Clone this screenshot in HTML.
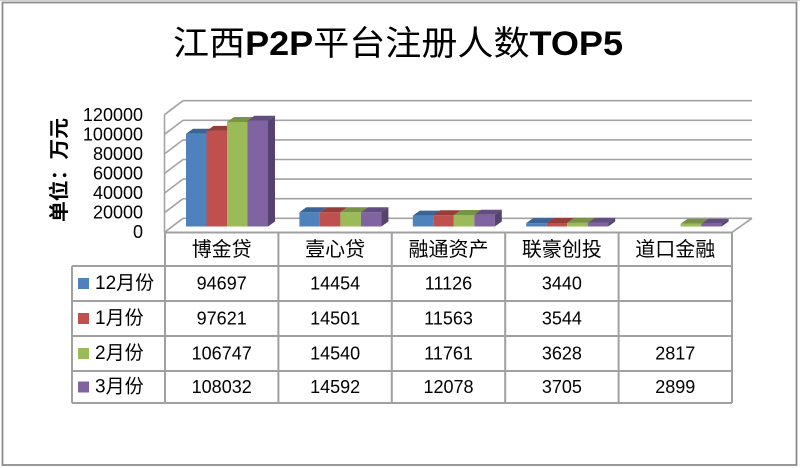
<!DOCTYPE html>
<html><head><meta charset="utf-8"><style>
html,body{margin:0;padding:0;background:#fff;width:800px;height:468px;overflow:hidden}
svg{display:block}
text{font-family:"Liberation Sans","Noto Sans CJK SC",sans-serif;fill:#000}
</style></head><body>
<svg width="800" height="468" viewBox="0 0 800 468" xmlns="http://www.w3.org/2000/svg">
<rect x="0" y="0" width="800" height="468" fill="#fff"/>
<line x1="0" y1="0.5" x2="800" y2="0.5" stroke="#d0d0d0" stroke-width="1"/>
<rect x="2.5" y="2.5" width="794" height="462.5" fill="none" stroke="#8c8c8c" stroke-width="1.8"/>

<!-- Title -->
<text x="398" y="55" font-size="34" text-anchor="middle" textLength="450" lengthAdjust="spacingAndGlyphs"><tspan font-family="'Noto Sans CJK SC',sans-serif">江西</tspan><tspan font-weight="bold">P2P</tspan><tspan font-family="'Noto Sans CJK SC',sans-serif">平台注册人数</tspan><tspan font-weight="bold">TOP5</tspan></text>

<!-- Y axis title -->
<text transform="translate(60,170) rotate(-90)" font-size="20" font-weight="bold" text-anchor="middle" dominant-baseline="central" textLength="104" lengthAdjust="spacingAndGlyphs" font-family="'Noto Sans CJK SC',sans-serif">单位：万元</text>

<!-- back wall gridlines & left wall -->
<g stroke="#a3a3a3" stroke-width="1.6" fill="none">
<line x1="183" y1="100.7" x2="752" y2="100.7"/>
<line x1="183" y1="120.3" x2="752" y2="120.3"/>
<line x1="183" y1="139.9" x2="752" y2="139.9"/>
<line x1="183" y1="159.5" x2="752" y2="159.5"/>
<line x1="183" y1="179.1" x2="752" y2="179.1"/>
<line x1="183" y1="198.7" x2="752" y2="198.7"/>
<line x1="183" y1="218.3" x2="752" y2="218.3"/>
<line x1="164.5" y1="114.7" x2="183" y2="100.7"/>
<line x1="164.5" y1="134.3" x2="183" y2="120.3"/>
<line x1="164.5" y1="153.9" x2="183" y2="139.9"/>
<line x1="164.5" y1="173.5" x2="183" y2="159.5"/>
<line x1="164.5" y1="193.1" x2="183" y2="179.1"/>
<line x1="164.5" y1="212.7" x2="183" y2="198.7"/>
<line x1="164.5" y1="232.3" x2="183" y2="218.3"/>
<line x1="164.5" y1="114.7" x2="164.5" y2="232.3"/>
<line x1="732" y1="232.3" x2="752" y2="218.3"/>
</g>

<!-- Y labels -->
<g font-size="18" text-anchor="end" dominant-baseline="central">
<text x="143" y="115">120000</text>
<text x="143" y="134.5">100000</text>
<text x="143" y="154">80000</text>
<text x="143" y="173.5">60000</text>
<text x="143" y="193">40000</text>
<text x="143" y="212.5">20000</text>
<text x="143" y="232">0</text>
</g>

<!-- Bars -->
<g id="bars" stroke="none">
<!-- 博金贷 x=186 -->
<polygon fill="#4F81BD" points="186,133.8 206.5,133.8 206.5,226.5 186,226.5"/>
<polygon fill="#3A6396" points="186,133.8 193,128.8 213.5,128.8 206.5,133.8"/>
<polygon fill="#C0504D" points="206.5,130.9 227,130.9 227,226.5 206.5,226.5"/>
<polygon fill="#963D3A" points="206.5,130.9 213.5,125.9 234,125.9 227,130.9"/>
<polygon fill="#9BBB59" points="227,122 247.5,122 247.5,226.5 227,226.5"/>
<polygon fill="#789344" points="227,122 234,117 254.5,117 247.5,122"/>
<polygon fill="#8064A2" points="247.5,120.7 268,120.7 268,226.5 247.5,226.5"/>
<polygon fill="#634D80" points="247.5,120.7 254.5,115.7 275,115.7 268,120.7"/>
<polygon fill="#55426F" points="268,120.7 275,115.7 275,221.5 268,226.5"/>

<!-- 壹心贷 x=299.4 -->
<polygon fill="#4F81BD" points="299.4,212.3 319.9,212.3 319.9,226.5 299.4,226.5"/>
<polygon fill="#3A6396" points="299.4,212.3 306.4,207.3 326.9,207.3 319.9,212.3"/>
<polygon fill="#C0504D" points="319.9,212.3 340.4,212.3 340.4,226.5 319.9,226.5"/>
<polygon fill="#963D3A" points="319.9,212.3 326.9,207.3 347.4,207.3 340.4,212.3"/>
<polygon fill="#9BBB59" points="340.4,212.3 360.9,212.3 360.9,226.5 340.4,226.5"/>
<polygon fill="#789344" points="340.4,212.3 347.4,207.3 367.9,207.3 360.9,212.3"/>
<polygon fill="#8064A2" points="360.9,212.2 381.4,212.2 381.4,226.5 360.9,226.5"/>
<polygon fill="#634D80" points="360.9,212.2 367.9,207.2 388.4,207.2 381.4,212.2"/>
<polygon fill="#55426F" points="381.4,212.2 388.4,207.2 388.4,221.5 381.4,226.5"/>

<!-- 融通资产 x=412.8 -->
<polygon fill="#4F81BD" points="412.8,215.6 433.3,215.6 433.3,226.5 412.8,226.5"/>
<polygon fill="#3A6396" points="412.8,215.6 419.8,210.6 440.3,210.6 433.3,215.6"/>
<polygon fill="#C0504D" points="433.3,215.2 453.8,215.2 453.8,226.5 433.3,226.5"/>
<polygon fill="#963D3A" points="433.3,215.2 440.3,210.2 460.8,210.2 453.8,215.2"/>
<polygon fill="#9BBB59" points="453.8,215 474.3,215 474.3,226.5 453.8,226.5"/>
<polygon fill="#789344" points="453.8,215 460.8,210 481.3,210 474.3,215"/>
<polygon fill="#8064A2" points="474.3,214.7 494.8,214.7 494.8,226.5 474.3,226.5"/>
<polygon fill="#634D80" points="474.3,214.7 481.3,209.7 501.8,209.7 494.8,214.7"/>
<polygon fill="#55426F" points="494.8,214.7 501.8,209.7 501.8,221.5 494.8,226.5"/>

<!-- 联豪创投 x=526.2 -->
<polygon fill="#4F81BD" points="526.2,223.1 546.7,223.1 546.7,226.5 526.2,226.5"/>
<polygon fill="#3A6396" points="526.2,223.1 533.2,218.1 553.7,218.1 546.7,223.1"/>
<polygon fill="#C0504D" points="546.7,223 567.2,223 567.2,226.5 546.7,226.5"/>
<polygon fill="#963D3A" points="546.7,223 553.7,218 574.2,218 567.2,223"/>
<polygon fill="#9BBB59" points="567.2,222.9 587.7,222.9 587.7,226.5 567.2,226.5"/>
<polygon fill="#789344" points="567.2,222.9 574.2,217.9 594.7,217.9 587.7,222.9"/>
<polygon fill="#8064A2" points="587.7,222.9 608.2,222.9 608.2,226.5 587.7,226.5"/>
<polygon fill="#634D80" points="587.7,222.9 594.7,217.9 615.2,217.9 608.2,222.9"/>
<polygon fill="#55426F" points="608.2,222.9 615.2,217.9 615.2,221.5 608.2,226.5"/>

<!-- 道口金融 x=639.6 (green at 680.6) -->
<polygon fill="#9BBB59" points="680.6,223.7 701.1,223.7 701.1,226.5 680.6,226.5"/>
<polygon fill="#789344" points="680.6,223.7 687.6,218.7 708.1,218.7 701.1,223.7"/>
<polygon fill="#8064A2" points="701.1,223.7 721.6,223.7 721.6,226.5 701.1,226.5"/>
<polygon fill="#634D80" points="701.1,223.7 708.1,218.7 728.6,218.7 721.6,223.7"/>
<polygon fill="#55426F" points="721.6,223.7 728.6,218.7 728.6,221.5 721.6,226.5"/>
</g>

<!-- Data table -->
<g stroke="#a0a0a0" stroke-width="2" fill="none">
<line x1="165" y1="232.5" x2="732" y2="232.5"/>
<line x1="72" y1="266" x2="732" y2="266"/>
<line x1="72" y1="301" x2="732" y2="301"/>
<line x1="72" y1="336" x2="732" y2="336"/>
<line x1="72" y1="371" x2="732" y2="371"/>
<line x1="72" y1="403" x2="732" y2="403"/>
<line x1="72" y1="266" x2="72" y2="403"/>
<line x1="165" y1="232" x2="165" y2="403"/>
<line x1="278.4" y1="232" x2="278.4" y2="403"/>
<line x1="391.8" y1="232" x2="391.8" y2="403"/>
<line x1="505.2" y1="232" x2="505.2" y2="403"/>
<line x1="618.6" y1="232" x2="618.6" y2="403"/>
<line x1="732" y1="232" x2="732" y2="403"/>
</g>

<!-- headers -->
<g font-size="20" text-anchor="middle" dominant-baseline="central" font-family="'Noto Sans CJK SC',sans-serif">
<text x="221.7" y="250">博金贷</text>
<text x="335.1" y="250">壹心贷</text>
<text x="448.5" y="250">融通资产</text>
<text x="561.9" y="250">联豪创投</text>
<text x="675.3" y="250">道口金融</text>
</g>

<!-- legend -->
<rect x="78" y="278" width="11" height="11" fill="#4F81BD"/>
<rect x="78" y="313" width="11" height="11" fill="#C0504D"/>
<rect x="78" y="348" width="11" height="11" fill="#9BBB59"/>
<rect x="78" y="381.5" width="11" height="11" fill="#8064A2"/>
<g font-size="19" dominant-baseline="central">
<text x="95" y="283.5">12月份</text>
<text x="95" y="318.5">1月份</text>
<text x="95" y="353.5">2月份</text>
<text x="95" y="387">3月份</text>
</g>

<!-- values -->
<g font-size="18" text-anchor="middle" dominant-baseline="central">
<text x="221.7" y="283.5">94697</text>
<text x="335.1" y="283.5">14454</text>
<text x="448.5" y="283.5">11126</text>
<text x="561.9" y="283.5">3440</text>

<text x="221.7" y="318.5">97621</text>
<text x="335.1" y="318.5">14501</text>
<text x="448.5" y="318.5">11563</text>
<text x="561.9" y="318.5">3544</text>

<text x="221.7" y="353.5">106747</text>
<text x="335.1" y="353.5">14540</text>
<text x="448.5" y="353.5">11761</text>
<text x="561.9" y="353.5">3628</text>
<text x="675.3" y="353.5">2817</text>

<text x="221.7" y="387">108032</text>
<text x="335.1" y="387">14592</text>
<text x="448.5" y="387">12078</text>
<text x="561.9" y="387">3705</text>
<text x="675.3" y="387">2899</text>
</g>
</svg>
</body></html>
